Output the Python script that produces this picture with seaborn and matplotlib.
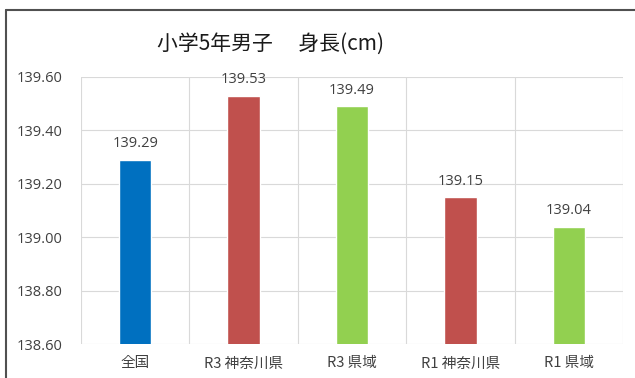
import matplotlib
matplotlib.use("Agg")
import matplotlib.pyplot as plt
import seaborn as sns
import pandas as pd
from matplotlib.lines import Line2D

categories = ["全国", "R3 神奈川県", "R3 県域", "R1 神奈川県", "R1 県域"]
values = [139.29, 139.53, 139.49, 139.15, 139.04]
colors = ["#0070C0", "#C0504D", "#92D050", "#C0504D", "#92D050"]
yticks = [138.60, 138.80, 139.00, 139.20, 139.40, 139.60]
title = "小学5年男子　 身長(cm)"

sns.set_theme(style="white")
plt.rcParams["font.family"] = ["Noto Sans CJK JP", "DejaVu Sans"]

df = pd.DataFrame({"cat": categories, "val": values})

fig = plt.figure(figsize=(6.35, 3.78), dpi=100)
ax = fig.add_axes([81/635, 1-344/378, (623-81)/635, (344-77)/378])

sns.barplot(data=df, x="cat", y="val", hue="cat", palette=colors, width=0.3,
            legend=False, ax=ax, saturation=1, zorder=3)

ax.set_ylim(138.60, 139.60)
ax.set_xlim(-0.5, len(categories)-0.5)
ax.set_yticks(yticks)
ax.set_yticklabels([f"{t:.2f}" for t in yticks], fontsize=10.5, color="#404040",
                   family=["Open Sans", "DejaVu Sans"])
ax.tick_params(axis="y", pad=13, length=0)
ax.tick_params(axis="x", pad=9, length=0, labelsize=10.5, labelcolor="#404040")
ax.set_xlabel("")
ax.set_ylabel("")

# grid
ax.set_xticks([i - 0.5 for i in range(len(categories)+1)], minor=True)
ax.grid(True, axis="y", which="major", color="#D9D9D9", linewidth=0.8, zorder=0)
ax.grid(True, axis="x", which="minor", color="#D9D9D9", linewidth=0.8, zorder=0)
ax.grid(False, axis="x", which="major")
for s in ax.spines.values():
    s.set_visible(False)

for i, v in enumerate(values):
    ax.annotate(f"{v:.2f}", (i, v), xytext=(0, 6), textcoords="offset points",
                ha="center", va="bottom", fontsize=10.5, color="#404040",
                family=["Open Sans", "DejaVu Sans"])

fig.text(157/635, 1-44/378, title, ha="left", va="center", fontsize=15, color="#1a1a1a")

# outer chart border (left and top visible)
fig.add_artist(Line2D([6/635, 6/635], [0, 1-10/378], transform=fig.transFigure,
                      color="#505050", linewidth=1.5))
fig.add_artist(Line2D([6/635, 1], [1-10/378, 1-10/378], transform=fig.transFigure,
                      color="#505050", linewidth=1.5))

fig.savefig("out.png", dpi=100)
